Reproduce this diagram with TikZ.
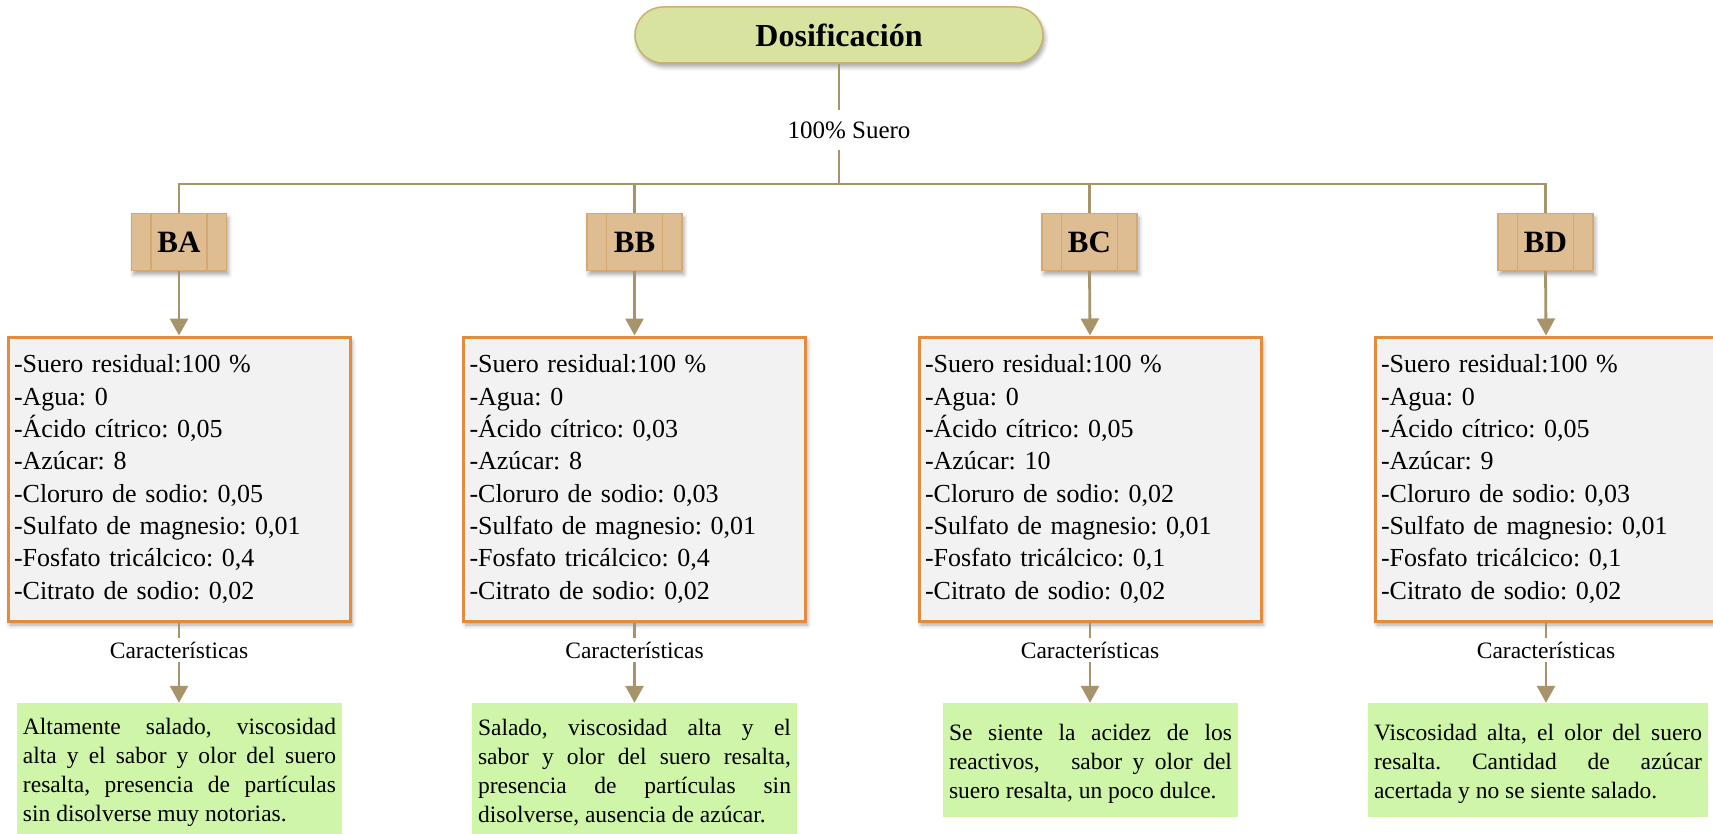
\documentclass[tikz,border=0pt]{standalone}
\usepackage{fontspec}
\setmainfont{Liberation Serif}
\usetikzlibrary{arrows.meta,shadows.blur}

\definecolor{linec}{RGB}{168,148,106}
\definecolor{titlefill}{RGB}{215,227,158}
\definecolor{titledraw}{RGB}{200,178,110}
\definecolor{tanfill}{RGB}{222,189,146}
\definecolor{tandraw}{RGB}{212,168,112}
\definecolor{listdraw}{RGB}{227,140,60}
\definecolor{listfill}{RGB}{242,242,242}
\definecolor{greenfill}{RGB}{207,245,168}

% taller first line so the paragraph sits a little lower in its box
\newcommand{\firstline}{\rule{0pt}{24pt}}

\begin{document}
\frenchspacing
\begin{tikzpicture}[x=1pt,y=-1pt,
  conn/.style={draw=linec, line width=2.8pt},
  arr/.style={conn, -{Triangle[width=18pt,length=17pt]}},
  softshadow/.style={blur shadow={shadow xshift=2pt, shadow yshift=-4pt,
      shadow blur radius=4pt, shadow opacity=35}},
  titlebox/.style={draw=titledraw, line width=1.5pt, fill=titlefill,
      rounded corners=28pt, minimum width=408pt, minimum height=56pt,
      inner sep=0pt, font=\fontsize{32}{38}\selectfont\bfseries, softshadow},
  tanbox/.style={draw=tandraw, line width=1.2pt, fill=tanfill,
      minimum width=95pt, minimum height=57pt, inner sep=0pt,
      font=\fontsize{31}{36}\selectfont\bfseries, softshadow},
  listbox/.style={draw=listdraw, line width=3pt, fill=listfill,
      minimum width=342pt, minimum height=284pt, text width=330pt,
      inner xsep=6pt, inner ysep=0pt, align=left,
      font=\fontsize{26}{32.3}\selectfont, softshadow},
  greenbox/.style={fill=greenfill, inner xsep=6pt, inner ysep=0pt,
      align=justify, font=\fontsize{23.5}{29}\selectfont},
  midlabel/.style={inner sep=0pt, font=\fontsize{23.5}{28}\selectfont,
      minimum height=24pt},
  divider/.style={draw=tandraw, line width=1.2pt}
]
\useasboundingbox (0,0) rectangle (1713,834);

% root and its label
\node[titlebox] (root) at (839,35) {Dosificación};
\node[inner sep=0pt, minimum height=40pt, font=\fontsize{25}{30}\selectfont]
  (suero) at (849,130) {100\% Suero};
\coordinate (jn) at (839,184);

% the four mixes
\node[tanbox] (ba) at (179,242) {BA};
\node[tanbox] (bb) at (634.5,242) {BB};
\node[tanbox] (bc) at (1089.5,242) {BC};
\node[tanbox] (bd) at (1545.5,242) {BD};
\foreach \n in {ba,bb,bc,bd}{
  \draw[divider] ([xshift=-28pt]\n.north) -- ([xshift=-28pt]\n.south);
  \draw[divider] ([xshift=28pt]\n.north) -- ([xshift=28pt]\n.south);
}

% formulations
\node[listbox] (la) at (179,479) {-Suero residual:100 \%\\-Agua: 0\\-Ácido cítrico: 0,05\\-Azúcar: 8\\-Cloruro de sodio: 0,05\\-Sulfato de magnesio: 0,01\\-Fosfato tricálcico: 0,4\\-Citrato de sodio: 0,02};
\node[listbox] (lb) at (634.5,479) {-Suero residual:100 \%\\-Agua: 0\\-Ácido cítrico: 0,03\\-Azúcar: 8\\-Cloruro de sodio: 0,03\\-Sulfato de magnesio: 0,01\\-Fosfato tricálcico: 0,4\\-Citrato de sodio: 0,02};
\node[listbox] (lc) at (1090,479) {-Suero residual:100 \%\\-Agua: 0\\-Ácido cítrico: 0,05\\-Azúcar: 10\\-Cloruro de sodio: 0,02\\-Sulfato de magnesio: 0,01\\-Fosfato tricálcico: 0,1\\-Citrato de sodio: 0,02};
\node[listbox] (ld) at (1546,479) {-Suero residual:100 \%\\-Agua: 0\\-Ácido cítrico: 0,05\\-Azúcar: 9\\-Cloruro de sodio: 0,03\\-Sulfato de magnesio: 0,01\\-Fosfato tricálcico: 0,1\\-Citrato de sodio: 0,02};

% labels between formulation and characteristics
\node[midlabel] (ca) at (179,650) {Características};
\node[midlabel] (cb) at (634.5,650) {Características};
\node[midlabel] (cc) at (1090,650) {Características};
\node[midlabel] (cd) at (1546,650) {Características};

% characteristics
\node[greenbox, text width=313pt, minimum width=325pt, minimum height=131pt] (ga) at (179.5,768.5)
  {\firstline Altamente salado, viscosidad\linebreak alta y el sabor y olor del suero\linebreak resalta, presencia de partículas\linebreak sin disolverse muy notorias.};
\node[greenbox, text width=313pt, minimum width=325pt, minimum height=131pt] (gb) at (634.5,768.5)
  {\firstline Salado, viscosidad alta y el\linebreak sabor y olor del suero resalta,\linebreak presencia de partículas sin\linebreak disolverse, ausencia de azúcar.};
\node[greenbox, text width=283pt, minimum width=295pt, minimum height=114pt] (gc) at (1090.5,760)
  {\firstline Se siente la acidez de los\linebreak reactivos,\ \ \ sabor y olor del\linebreak suero resalta, un poco dulce.};
\node[greenbox, text width=328pt, minimum width=340pt, minimum height=114pt] (gd) at (1538,760)
  {\firstline Viscosidad alta, el olor del suero\linebreak resalta. Cantidad de azúcar\linebreak acertada y no se siente salado.};

% connectors
\draw[conn] (root.south) -- (root.south |- suero.north);
\draw[conn] (root.south |- suero.south) -- (jn);
\foreach \n in {ba,bb,bc,bd}{
  \draw[conn] (jn) -| (\n.north);
}
\draw[arr] (ba.south) -- (la.north);
\draw[arr] (bb.south) -- (lb.north);
\draw[arr] (bc.south) -- (lc.north);
\draw[arr] (bd.south) -- (ld.north);
\foreach \l/\c/\g in {la/ca/ga, lb/cb/gb, lc/cc/gc, ld/cd/gd}{
  \draw[conn] (\l.south) -- (\c.north);
  \draw[arr] (\c.south) -- (\c.south |- \g.north);
}
\end{tikzpicture}
\end{document}
